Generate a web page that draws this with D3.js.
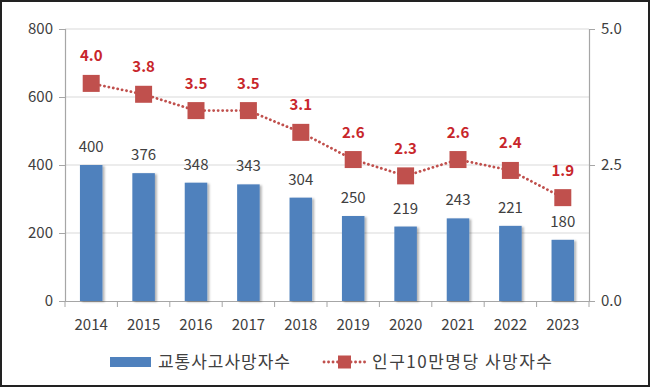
<!DOCTYPE html>
<html>
<head>
<meta charset="utf-8">
<script src="https://cdn.jsdelivr.net/npm/d3@7"></script>
<style>
  body { margin: 0; background: #fff; }
  svg { display: block; font-family: "Noto Sans CJK KR", "Noto Sans", sans-serif; }
</style>
</head>
<body>
<svg width="650" height="387"></svg>
<script>
const years = ["2014", "2015", "2016", "2017", "2018", "2019", "2020", "2021", "2022", "2023"];
const deaths = [400, 376, 348, 343, 304, 250, 219, 243, 221, 180];
const rate = [4.0, 3.8, 3.5, 3.5, 3.1, 2.6, 2.3, 2.6, 2.4, 1.9];
const leftTicks = [0, 200, 400, 600, 800];
const rightTicks = [0, 2.5, 5.0];
const seriesNames = ["교통사고사망자수", "인구10만명당 사망자수"];

const svg = d3.select("svg");
const W = 650, H = 387;
const blue = "#4f81bd", red = "#c0504d", redText = "#c8262b";

// outer frame
svg.append("rect").attr("x", 1).attr("y", 1).attr("width", W - 2).attr("height", H - 2)
  .attr("fill", "none").attr("stroke", "#222").attr("stroke-width", 2);

const defs = svg.append("defs");
const f = defs.append("filter").attr("id", "shadow").attr("x", "-20%").attr("y", "-20%")
  .attr("width", "150%").attr("height", "150%");
f.append("feDropShadow").attr("dx", 2).attr("dy", 1).attr("stdDeviation", 1.2)
  .attr("flood-color", "#000").attr("flood-opacity", 0.3);

const x = d3.scaleBand().domain(years).range([65, 589]).paddingInner(0.57).paddingOuter(0.285);
const xb = d3.scaleBand().domain(years).range([65, 589]);
const y = d3.scaleLinear().domain([0, 800]).range([301, 29]);
const y2 = d3.scaleLinear().domain([0, 5]).range([301, 29]);

// gridlines
svg.append("g").selectAll("line").data(leftTicks.filter(d => d > 0)).join("line")
  .attr("x1", 65).attr("x2", 589).attr("y1", d => y(d)).attr("y2", d => y(d))
  .attr("stroke", "#d9d9d9").attr("stroke-width", 1);

// axes
const axisColor = "#a6a6a6";
const gl = svg.append("g").attr("transform", "translate(65,0)")
  .call(d3.axisLeft(y).tickValues(leftTicks).tickSize(6).tickPadding(6));
const gr = svg.append("g").attr("transform", "translate(589,0)")
  .call(d3.axisRight(y2).tickValues(rightTicks).tickSize(6).tickPadding(6).tickFormat(d3.format(".1f")));
const gx = svg.append("g").attr("transform", "translate(0,301)")
  .call(d3.axisBottom(xb).tickSize(0).tickPadding(18));
gx.append("g").selectAll("line").data(d3.range(years.length + 1)).join("line")
  .attr("x1", i => 65 + i * xb.step()).attr("x2", i => 65 + i * xb.step())
  .attr("y1", 0).attr("y2", 6).attr("stroke", axisColor);

[gl, gr, gx].forEach(g => {
  g.select(".domain").attr("stroke", axisColor).attr("stroke-width", 1.2);
  g.selectAll(".tick line").attr("stroke", axisColor);
  g.selectAll("text").attr("fill", "#404040").attr("font-size", 15)
    .attr("font-family", "\"Noto Sans CJK KR\", sans-serif");
});

// bars
svg.append("g").selectAll("rect").data(years).join("rect")
  .attr("x", d => x(d)).attr("width", x.bandwidth())
  .attr("y", (d, i) => y(deaths[i])).attr("height", (d, i) => y(0) - y(deaths[i]))
  .attr("fill", blue).attr("filter", "url(#shadow)");

svg.append("g").selectAll("text").data(years).join("text")
  .attr("x", d => x(d) + x.bandwidth() / 2).attr("y", (d, i) => y(deaths[i]) - 13)
  .attr("text-anchor", "middle").attr("font-size", 15).attr("fill", "#404040")
  .text((d, i) => deaths[i]);

// rate line
const line = d3.line().x((d, i) => xb(years[i]) + xb.bandwidth() / 2).y(d => y2(d));
svg.append("path").datum(rate).attr("d", line)
  .attr("fill", "none").attr("stroke", red).attr("stroke-width", 2.8)
  .attr("stroke-linecap", "round").attr("stroke-dasharray", "0.1,4.4");

svg.append("g").selectAll("rect").data(rate).join("rect")
  .attr("x", (d, i) => xb(years[i]) + xb.bandwidth() / 2 - 8.5).attr("y", d => y2(d) - 8.5)
  .attr("width", 17).attr("height", 17).attr("fill", red);

svg.append("g").selectAll("text").data(rate).join("text")
  .attr("x", (d, i) => xb(years[i]) + xb.bandwidth() / 2).attr("y", d => y2(d) - 22)
  .attr("text-anchor", "middle").attr("font-size", 15).attr("font-weight", "bold")
  .attr("fill", redText).text(d => d3.format(".1f")(d));

// legend
const lg = svg.append("g").attr("font-size", 17).attr("fill", "#404040");
lg.append("rect").attr("x", 110).attr("y", 357).attr("width", 41).attr("height", 10).attr("fill", blue);
lg.append("text").attr("x", 158).attr("y", 368).attr("textLength", 132)
  .attr("lengthAdjust", "spacing").text(seriesNames[0]);
lg.append("line").attr("x1", 324).attr("x2", 366).attr("y1", 362).attr("y2", 362)
  .attr("stroke", red).attr("stroke-width", 2.8).attr("stroke-linecap", "round")
  .attr("stroke-dasharray", "0.1,4.4");
lg.append("rect").attr("x", 338).attr("y", 355.5).attr("width", 13).attr("height", 13).attr("fill", red);
lg.append("text").attr("x", 372).attr("y", 368).attr("textLength", 180)
  .attr("lengthAdjust", "spacing").text(seriesNames[1]);
</script>
</body>
</html>
